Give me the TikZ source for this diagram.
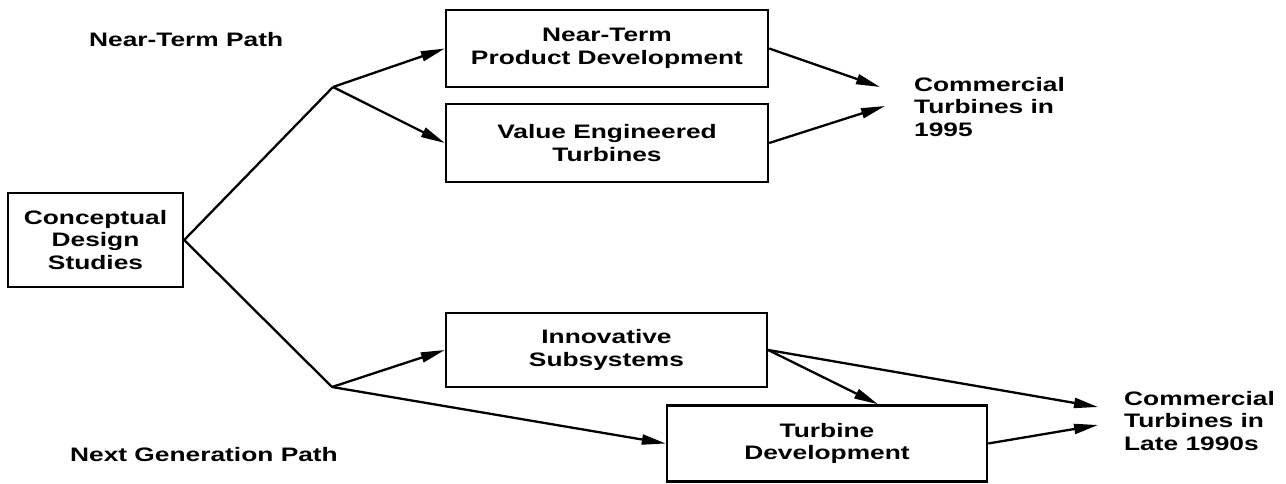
\documentclass[tikz,border=0pt]{standalone}
\usepackage{fontspec}
\setmainfont{Liberation Sans}[FakeStretch=1.35]
\usetikzlibrary{arrows.meta}
\begin{document}
\begin{tikzpicture}[x=1pt, y=-1pt,
  every node/.style={font=\bfseries\fontsize{19.5}{22.5}\selectfont},
  stagebox/.style={draw, line width=2.4pt, align=center, inner sep=0pt},
  pathlabel/.style={anchor=base west, inner sep=0pt},
  goallabel/.style={anchor=west, align=left, inner sep=0pt},
  >={Triangle[length=24pt, width=10pt]}, line width=2.3pt]
  \useasboundingbox (0,0) rectangle (1286,483);

  \node[stagebox, minimum width=175pt, minimum height=94pt] (concept) at (95.5, 240) {Conceptual\\Design\\Studies};
  \node[stagebox, minimum width=322pt, minimum height=77pt] (nearterm) at (607, 48.5) {Near-Term\\Product Development};
  \node[stagebox, minimum width=322pt, minimum height=78pt] (valueeng) at (607, 143) {Value Engineered\\Turbines};
  \node[stagebox, minimum width=321pt, minimum height=74pt] (innov) at (606.5, 350) {Innovative\\Subsystems};
  \node[stagebox, minimum width=320pt, minimum height=76pt] (turbdev) at (827, 443.5) {Turbine\\Development};

  \node[pathlabel] (nearpath) at (88, 46) {Near-Term Path};
  \node[pathlabel] (nextpath) at (69, 461) {Next Generation Path};
  \node[goallabel] (goalearly) at (913, 107) {Commercial\\Turbines in\\1995};
  \node[goallabel] (goallate) at (1123, 421) {Commercial\\Turbines in\\Late 1990s};

  \coordinate (upfork) at (333, 87);
  \coordinate (lowfork) at (332, 387);
  \coordinate (earlyin) at (880, 87);
  \coordinate (earlyinb) at (885, 106);
  \coordinate (latein) at (1098, 407);
  \coordinate (lateinb) at (1098, 425);

  \draw (concept.east) -- (upfork);
  \draw (concept.east) -- (lowfork);
  \draw[->] (upfork) -- (nearterm.west);
  \draw[->] (upfork) -- (valueeng.west);
  \draw[->] (lowfork) -- (innov.west);
  \draw[->] (lowfork) -- (turbdev.west);
  \draw[->] (nearterm.east) -- (earlyin);
  \draw[->] (valueeng.east) -- (earlyinb);
  \draw[->] (innov.east) -- ([xshift=51pt]turbdev.north);
  \draw[->] (innov.east) -- (latein);
  \draw[->] (turbdev.east) -- (lateinb);
\end{tikzpicture}
\end{document}
